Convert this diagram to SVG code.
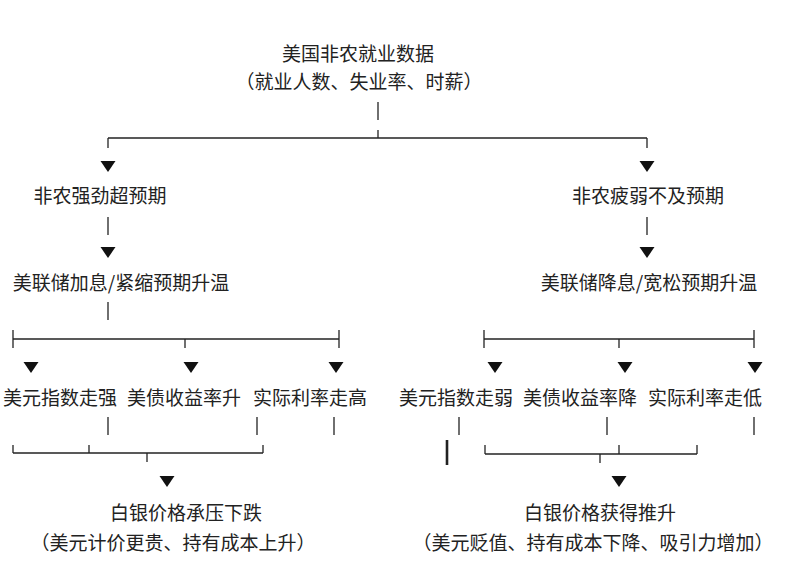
<svg xmlns="http://www.w3.org/2000/svg" xmlns:xlink="http://www.w3.org/1999/xlink" width="799" height="574" viewBox="0 0 799 574">
<style>
text{font-family:"Noto Sans CJK SC","Noto Sans",sans-serif;font-size:19px;fill:#222;text-anchor:middle}
.c line{stroke:#222;stroke-width:1.3}
.c .thick{stroke-width:2.6}
.tri{fill:#111}
</style>
<defs>
<polygon id="tri" class="tri" points="-7.5,0 7.5,0 0,11"/>
</defs>
<rect width="799" height="574" fill="#fff"/>
<g class="c" id="connectors">
<line x1="378" y1="102" x2="378" y2="120"/>
<line x1="378" y1="130" x2="378" y2="138"/>
<line x1="108" y1="138" x2="647" y2="138"/>
<line x1="108" y1="138" x2="108" y2="148"/>
<line x1="647" y1="138" x2="647" y2="148"/>
<use xlink:href="#tri" x="108" y="161"/>
<use xlink:href="#tri" x="647" y="161"/>
<line x1="108" y1="217" x2="108" y2="235"/>
<line x1="647" y1="217" x2="647" y2="235"/>
<use xlink:href="#tri" x="108" y="247"/>
<use xlink:href="#tri" x="647" y="247"/>
<line x1="108" y1="302" x2="108" y2="320"/>
<line x1="13" y1="339" x2="339" y2="339"/>
<line x1="13" y1="330" x2="13" y2="348"/>
<line x1="339" y1="330" x2="339" y2="348"/>
<line x1="185" y1="339" x2="185" y2="348"/>
<use xlink:href="#tri" x="31" y="362"/>
<use xlink:href="#tri" x="191" y="362"/>
<use xlink:href="#tri" x="336" y="362"/>
<line x1="484" y1="339" x2="754" y2="339"/>
<line x1="484" y1="330" x2="484" y2="348"/>
<line x1="754" y1="330" x2="754" y2="348"/>
<line x1="619" y1="339" x2="619" y2="348"/>
<use xlink:href="#tri" x="495" y="362"/>
<use xlink:href="#tri" x="625" y="362"/>
<use xlink:href="#tri" x="755" y="362"/>
<line x1="108" y1="417" x2="108" y2="435"/>
<line x1="257" y1="417" x2="257" y2="435"/>
<line x1="334" y1="417" x2="334" y2="435"/>
<line x1="459" y1="417" x2="459" y2="435"/>
<line x1="607" y1="417" x2="607" y2="435"/>
<line x1="754" y1="417" x2="754" y2="435"/>
<line class="thick" x1="447" y1="440" x2="447" y2="465"/>
<line x1="13" y1="453" x2="263" y2="453"/>
<line x1="13" y1="445" x2="13" y2="453"/>
<line x1="89" y1="445" x2="89" y2="453"/>
<line x1="263" y1="445" x2="263" y2="453"/>
<line x1="147" y1="453" x2="147" y2="462"/>
<use xlink:href="#tri" x="167" y="476"/>
<line x1="485" y1="454" x2="697" y2="454"/>
<line x1="485" y1="445" x2="485" y2="454"/>
<line x1="619" y1="445" x2="619" y2="454"/>
<line x1="697" y1="445" x2="697" y2="454"/>
<line x1="600" y1="454" x2="600" y2="463"/>
<use xlink:href="#tri" x="619" y="476"/>
</g>
<g id="n-root"><text x="358" y="61">美国非农就业数据</text><text x="359" y="89">（就业人数、失业率、时薪）</text></g>
<g id="n-strong"><text x="100" y="203">非农强劲超预期</text></g>
<g id="n-weak"><text x="648" y="203">非农疲弱不及预期</text></g>
<g id="n-hike"><text x="121" y="290">美联储加息/紧缩预期升温</text></g>
<g id="n-cut"><text x="649" y="290">美联储降息/宽松预期升温</text></g>
<g id="n-usd-up"><text x="60" y="405">美元指数走强</text></g>
<g id="n-yield-up"><text x="184" y="405">美债收益率升</text></g>
<g id="n-real-up"><text x="310" y="405">实际利率走高</text></g>
<g id="n-usd-down"><text x="456" y="405">美元指数走弱</text></g>
<g id="n-yield-down"><text x="580" y="405">美债收益率降</text></g>
<g id="n-real-down"><text x="705" y="405">实际利率走低</text></g>
<g id="n-silver-down"><text x="186" y="520">白银价格承压下跌</text><text x="173" y="550">（美元计价更贵、持有成本上升）</text></g>
<g id="n-silver-up"><text x="600" y="520">白银价格获得推升</text><text x="593" y="550">（美元贬值、持有成本下降、吸引力增加）</text></g>
</svg>
